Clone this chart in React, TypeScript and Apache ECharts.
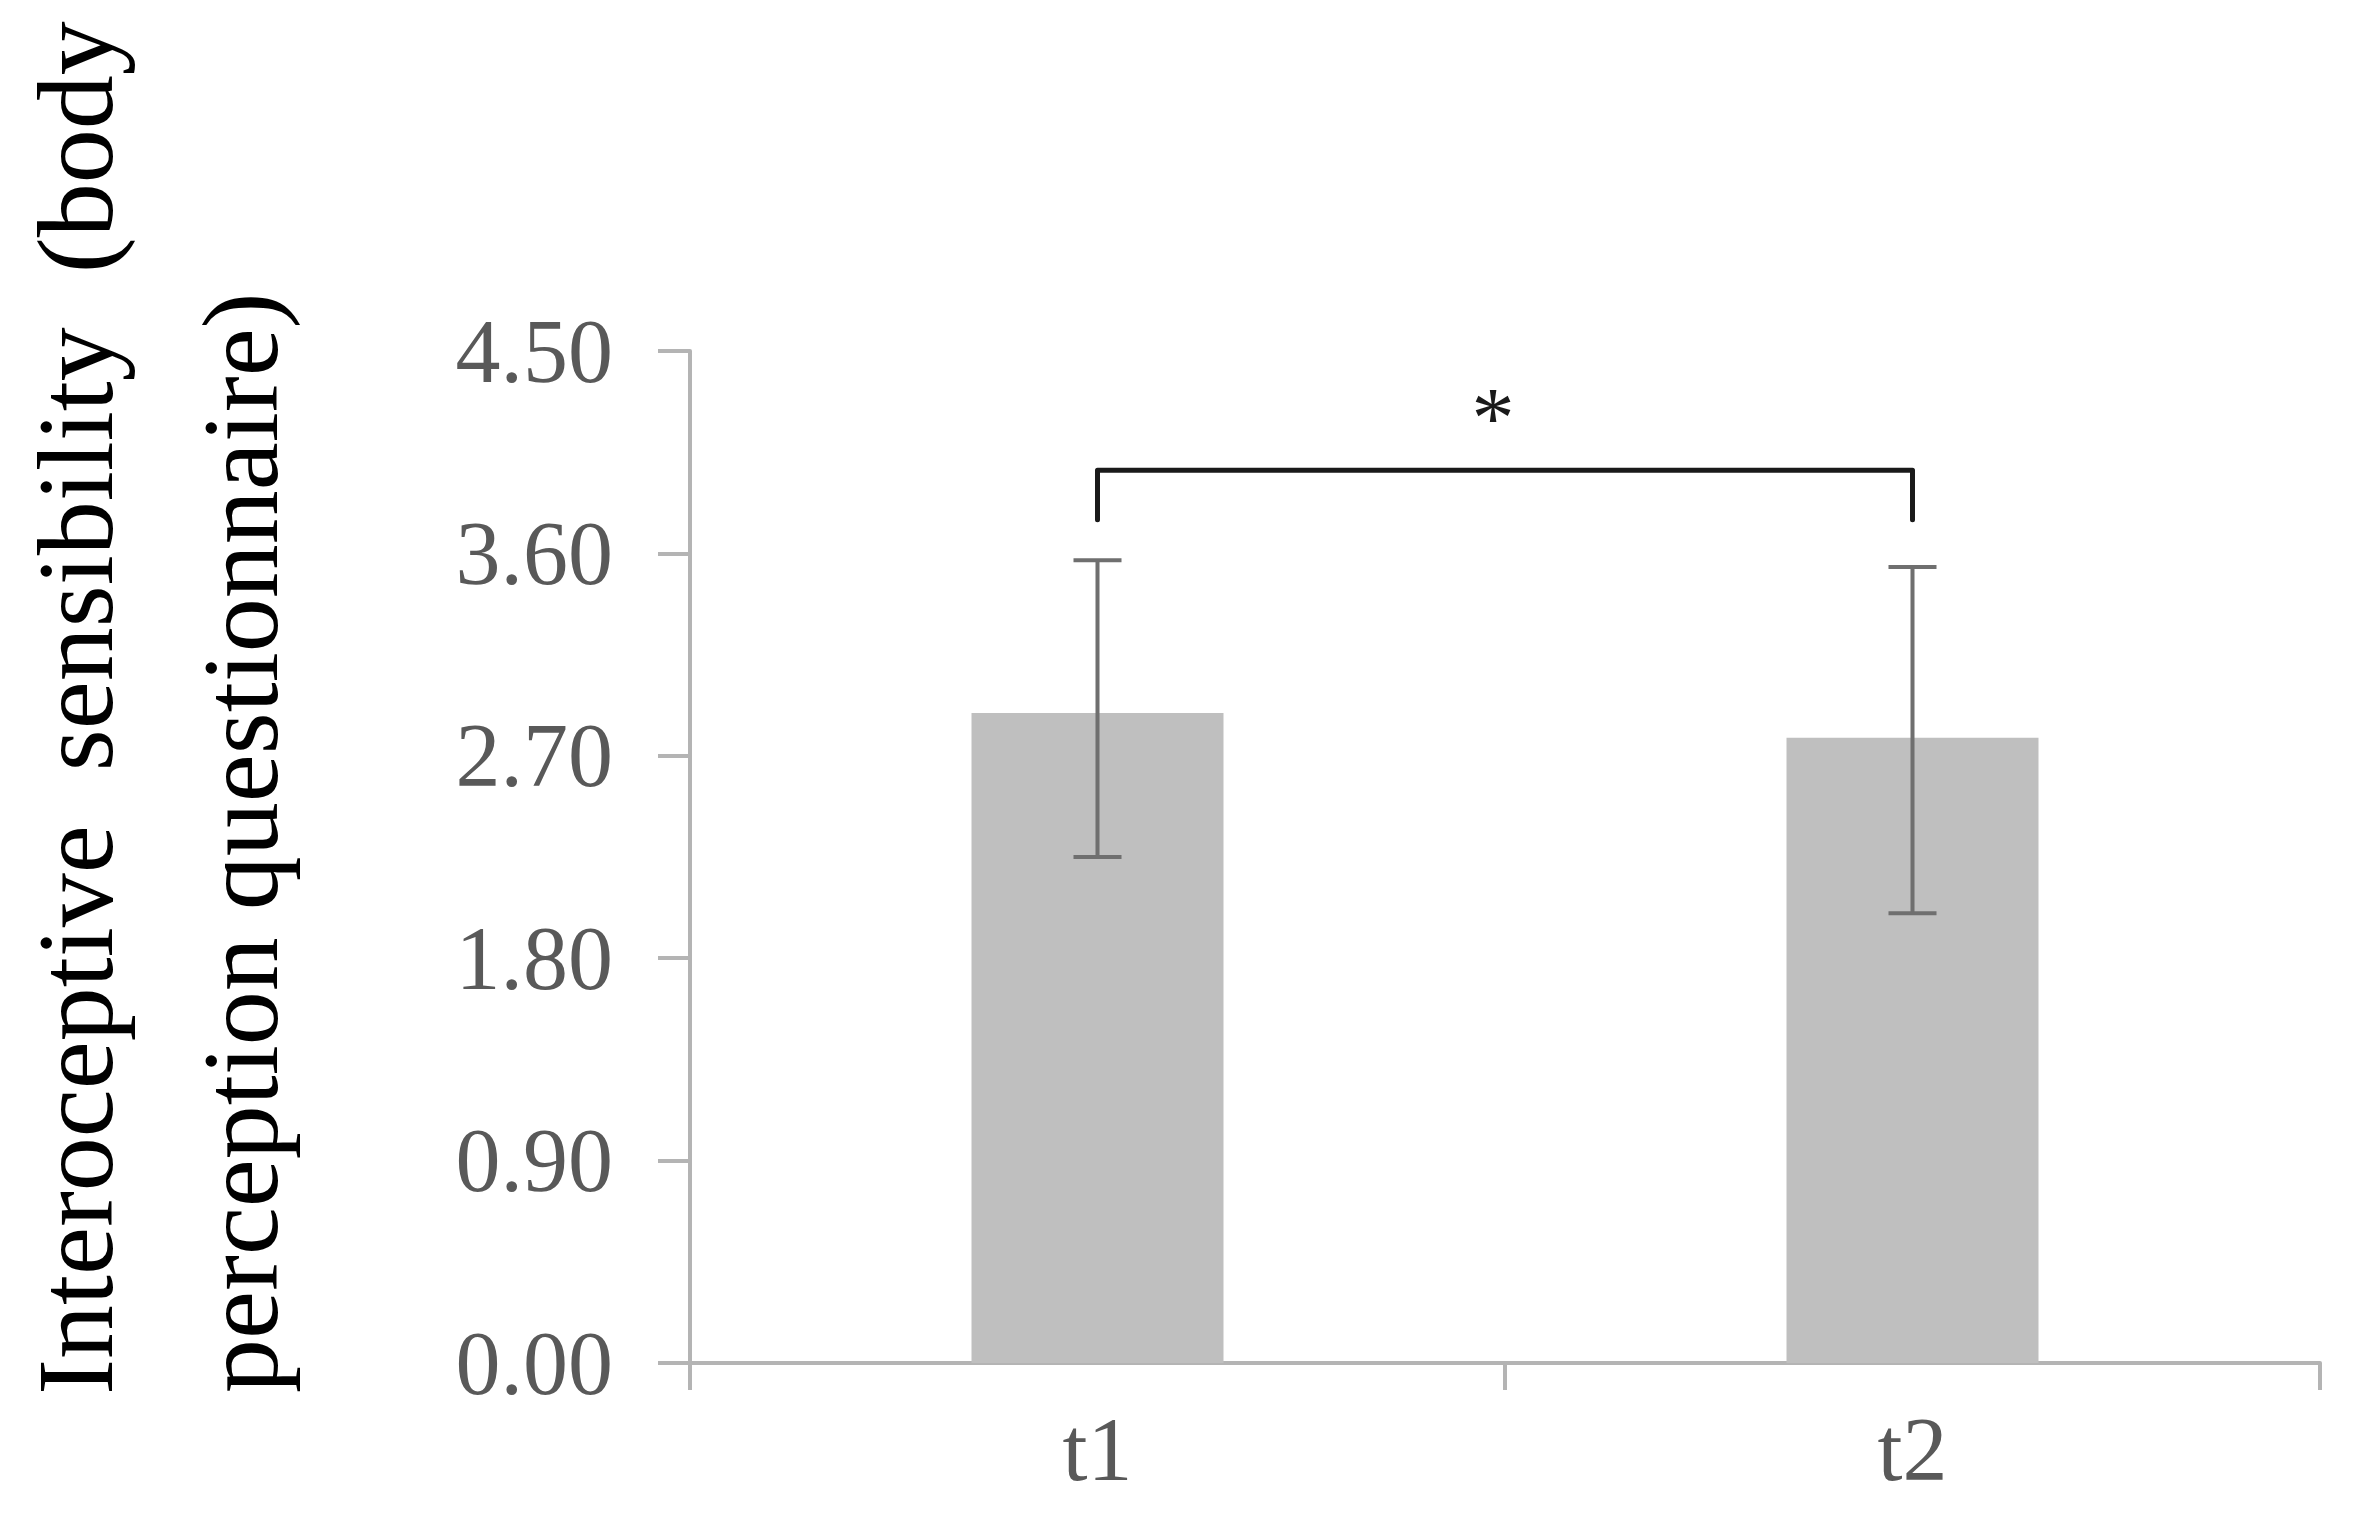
import React, { useEffect, useRef } from "react";
import * as echarts from "echarts";

const categories = ["t1", "t2"];
const meanValues = [2.89, 2.78];
const errLow = [2.25, 2.0];
const errHigh = [3.57, 3.54];
const yTicks = [0, 0.9, 1.8, 2.7, 3.6, 4.5];
const bracketTop = 3.97;
const bracketEnd = 3.75;
const starLevel = 4.2;
const yNameLine1 = "Interoceptive  sensibility  (body";
const yNameLine2 = "perception questionnaire)";

const FONT = '"Liberation Serif", "Times New Roman", serif';

export default function App() {
  const ref = useRef<HTMLDivElement>(null);
  useEffect(() => {
    if (!ref.current) return;
    const chart = echarts.init(ref.current, undefined, { renderer: "svg" });
    const axisGray = "#b4b4b4";
    const option: any = {
      animation: false,
      backgroundColor: "#ffffff",
      grid: { left: 690, right: 41, top: 351, bottom: 166, containLabel: false },
      xAxis: {
        type: "category",
        data: categories,
        boundaryGap: true,
        axisLine: { show: true, lineStyle: { color: axisGray, width: 4 } },
        axisTick: { show: true, length: 27, interval: 0, lineStyle: { color: axisGray, width: 4 } },
        axisLabel: { color: "#595959", fontFamily: FONT, fontSize: 90, margin: 41 },
        splitLine: { show: false },
      },
      yAxis: {
        type: "value",
        min: yTicks[0],
        max: yTicks[yTicks.length - 1],
        interval: yTicks[1] - yTicks[0],
        axisLine: { show: true, lineStyle: { color: axisGray, width: 4 } },
        axisTick: { show: true, length: 32, lineStyle: { color: axisGray, width: 4 } },
        axisLabel: {
          color: "#595959",
          fontFamily: FONT,
          fontSize: 90,
          margin: 77,
          formatter: (v: number) => v.toFixed(2),
        },
        splitLine: { show: false },
      },
      graphic: [
        {
          type: "text",
          x: 75,
          y: 1395,
          rotation: Math.PI / 2,
          style: {
            text: yNameLine1,
            font: `108px ${FONT}`,
            fill: "#000000",
            align: "left",
            verticalAlign: "middle",
          },
        },
        {
          type: "text",
          x: 240,
          y: 1393,
          rotation: Math.PI / 2,
          style: {
            text: yNameLine2,
            font: `108px ${FONT}`,
            fill: "#000000",
            align: "left",
            verticalAlign: "middle",
          },
        },
      ],
      series: [
        {
          type: "bar",
          data: meanValues,
          barWidth: 252,
          itemStyle: { color: "#bfbfbf" },
          z: 2,
        },
        {
          type: "custom",
          z: 5,
          data: categories.map((_, i) => [i, errLow[i], errHigh[i]]),
          renderItem: (params: any, api: any) => {
            const idx = api.value(0);
            const pLo = api.coord([idx, api.value(1)]);
            const pHi = api.coord([idx, api.value(2)]);
            const hw = 24;
            const st = { stroke: "#6f6f6f", lineWidth: 4 };
            return {
              type: "group",
              children: [
                { type: "line", shape: { x1: pLo[0], y1: pLo[1], x2: pHi[0], y2: pHi[1] }, style: st },
                { type: "line", shape: { x1: pLo[0] - hw, y1: pLo[1], x2: pLo[0] + hw, y2: pLo[1] }, style: st },
                { type: "line", shape: { x1: pHi[0] - hw, y1: pHi[1], x2: pHi[0] + hw, y2: pHi[1] }, style: st },
              ],
            };
          },
        },
        {
          type: "custom",
          z: 6,
          data: [[0, 1, bracketTop, bracketEnd, starLevel]],
          renderItem: (params: any, api: any) => {
            const a = api.value(0);
            const b = api.value(1);
            const top = api.value(2);
            const end = api.value(3);
            const star = api.value(4);
            const pA1 = api.coord([a, end]);
            const pA2 = api.coord([a, top]);
            const pB2 = api.coord([b, top]);
            const pB1 = api.coord([b, end]);
            const pS = api.coord([a, star]);
            return {
              type: "group",
              children: [
                {
                  type: "polyline",
                  shape: { points: [pA1, pA2, pB2, pB1] },
                  style: { stroke: "#1a1a1a", lineWidth: 5, fill: null, lineJoin: "round", lineCap: "round" },
                },
                {
                  type: "text",
                  x: (pA2[0] + pB2[0]) / 2 - 12,
                  y: pS[1],
                  style: {
                    text: "*",
                    font: `86px ${FONT}`,
                    fill: "#1a1a1a",
                    align: "center",
                    verticalAlign: "middle",
                  },
                },
              ],
            };
          },
        },
      ],
    };
    chart.setOption(option);
    return () => chart.dispose();
  }, []);
  return (
    <div
      ref={ref}
      style={{ position: "fixed", left: 0, top: 0, width: 2361, height: 1529, background: "#fff" }}
    />
  );
}
